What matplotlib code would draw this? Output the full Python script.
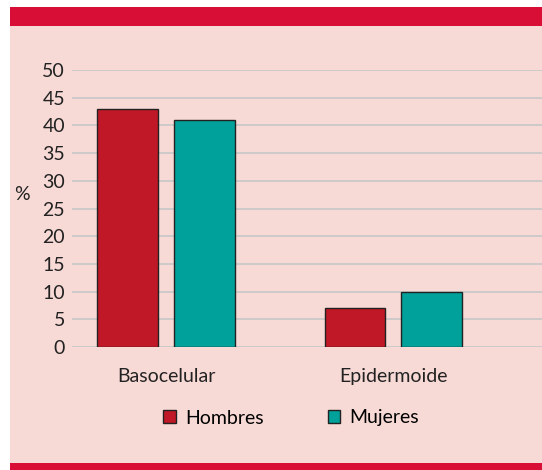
import matplotlib.pyplot as plt
import numpy as np
from matplotlib.patches import Rectangle, Patch

# datos
categorias = ['Basocelular', 'Epidermoide']
hombres = [43, 7]
mujeres = [41, 10]
yticks = [0, 5, 10, 15, 20, 25, 30, 35, 40, 45, 50]

rojo_banda = '#d90e37'
rosa = '#f7d9d5'
col_h = '#c01826'
col_m = '#00a19a'
fs = 14

plt.rcParams['font.family'] = ['Lato', 'DejaVu Sans']

fig = plt.figure(figsize=(5.42, 4.70), dpi=100)
W, H = 542, 470

# fondo rosa y bandas rojas (por debajo de los ejes)
fig.patches.append(Rectangle((10 / W, 0), 1 - 10 / W, 1 - 7 / H, transform=fig.transFigure,
                             facecolor=rosa, edgecolor='none', zorder=-10))
fig.patches.append(Rectangle((10 / W, 1 - 26 / H), 1 - 10 / W, 19 / H, transform=fig.transFigure,
                             facecolor=rojo_banda, edgecolor='none', zorder=-9))
fig.patches.append(Rectangle((10 / W, 0), 1 - 10 / W, 7 / H, transform=fig.transFigure,
                             facecolor=rojo_banda, edgecolor='none', zorder=-9))

ax = fig.add_axes([72 / W, 1 - 347 / H, (542 - 72) / W, (347 - 70) / H])
ax.set_facecolor('none')

x = np.arange(len(categorias))
ancho = 0.268
desp = 0.169
ax.bar(x - desp, hombres, ancho, color=col_h, edgecolor='#222222', linewidth=1, zorder=3)
ax.bar(x + desp, mujeres, ancho, color=col_m, edgecolor='#222222', linewidth=1, zorder=3)

ax.set_xlim(-0.413, 1.653)
ax.set_ylim(0, 50)
ax.set_yticks(yticks)
ax.set_yticklabels([str(v) for v in yticks], fontsize=fs, color='#222222')
ax.set_xticks(x)
ax.set_xticklabels(categorias, fontsize=fs, color='#222222')
ax.tick_params(axis='both', length=0)
ax.tick_params(axis='y', pad=5)
ax.tick_params(axis='x', pad=15)
ax.yaxis.grid(True, color='#c8c8c8', linewidth=1.2, zorder=0)
ax.set_axisbelow(True)
for s in ax.spines.values():
    s.set_visible(False)

fig.text(22 / W, 1 - 195 / H, '%', fontsize=fs, color='#222222', ha='center', va='center')

handles = [Patch(facecolor=col_h, edgecolor='#222222', label='Hombres'),
           Patch(facecolor=col_m, edgecolor='#222222', label='Mujeres')]
fig.legend(handles=handles, loc='center', bbox_to_anchor=(0.537, 1 - 418 / H), ncol=2,
           frameon=False, fontsize=fs, handlelength=0.65, handleheight=0.65,
           handletextpad=0.45, columnspacing=3.3)

fig.savefig('out.png', dpi=100)
